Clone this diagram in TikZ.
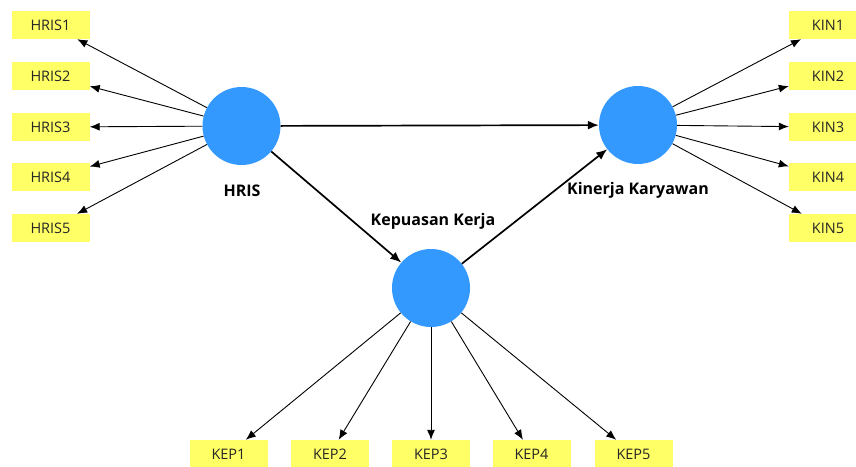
\documentclass[tikz,border=0pt]{standalone}
\usepackage{fontspec}
\setmainfont{Open Sans}
\usepackage{xcolor}
\usetikzlibrary{arrows.meta}
\definecolor{plsBlue}{HTML}{3399FF}
\definecolor{itemYellow}{HTML}{FFFF66}

\begin{document}
\begin{tikzpicture}[
  x=1pt, y=-1pt,
  latent/.style={circle, fill=plsBlue, minimum size=78pt, inner sep=0pt},
  item/.style={fill=itemYellow, minimum width=78pt, minimum height=28pt,
               inner sep=0pt, text=black!85, font=\fontsize{14.5}{16}\selectfont},
  lbl/.style={font=\fontsize{16}{18}\selectfont\bfseries},
  ind/.style={-{Latex[length=10pt,width=8pt]}, line width=0.9pt},
  path/.style={-{Latex[length=11pt,width=9pt]}, line width=1.7pt}
]
\useasboundingbox[fill=white] (0,0) rectangle (856,466);
% latent variables
\node[latent] (hris) at (241.5,126) {};
\node[latent] (kin) at (638,125) {};
\node[latent] (kep) at (431,288) {};
\node[lbl] (hrisl) at (242,191) {HRIS};
\node[lbl] (kinl) at (638,190) {Kinerja Karyawan};
\node[lbl] (kepl) at (433,221) {Kepuasan Kerja};
% indicators
\node[item] (hris1) at (50.5,25) {HRIS1};
\node[item] (hris2) at (50.5,76) {HRIS2};
\node[item] (hris3) at (50.5,127) {HRIS3};
\node[item] (hris4) at (50.5,177) {HRIS4};
\node[item] (hris5) at (50.5,228) {HRIS5};
\node[item] (kin1) at (828,25) {KIN1};
\node[item] (kin2) at (828,76) {KIN2};
\node[item] (kin3) at (828,127) {KIN3};
\node[item] (kin4) at (828,177) {KIN4};
\node[item] (kin5) at (828,228) {KIN5};
\node[item] (kep1) at (228.5,454) {KEP1};
\node[item] (kep2) at (330,454) {KEP2};
\node[item] (kep3) at (431,454) {KEP3};
\node[item] (kep4) at (531.5,454) {KEP4};
\node[item] (kep5) at (633.5,454) {KEP5};
% structural paths
\draw[path] (hris) -- (kin);
\draw[path] (hris) -- (kep);
\draw[path] (kep) -- (kin);
% outer loadings
\draw[ind] (hris) -- (hris1);
\draw[ind] (hris) -- (hris2);
\draw[ind] (hris) -- (hris3);
\draw[ind] (hris) -- (hris4);
\draw[ind] (hris) -- (hris5);
\draw[ind] (kin) -- (kin1);
\draw[ind] (kin) -- (kin2);
\draw[ind] (kin) -- (kin3);
\draw[ind] (kin) -- (kin4);
\draw[ind] (kin) -- (kin5);
\draw[ind] (kep) -- (kep1);
\draw[ind] (kep) -- (kep2);
\draw[ind] (kep) -- (kep3);
\draw[ind] (kep) -- (kep4);
\draw[ind] (kep) -- (kep5);
\end{tikzpicture}
\end{document}
